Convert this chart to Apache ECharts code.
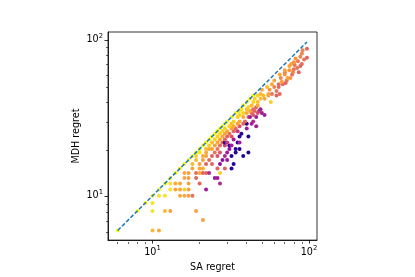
<!DOCTYPE html>
<html>
<head>
<meta charset="utf-8">
<script src="https://cdn.jsdelivr.net/npm/echarts@6/dist/echarts.min.js"></script>
<style>
  html, body { margin: 0; padding: 0; background: #fff; }
  #chart { width: 415px; height: 277px; }
</style>
</head>
<body>
<div id="chart"></div>
<script>
  // [SA regret, MDH regret, colour value 0..1]
  var points = [
    [6, 6, 1], [10, 6, 0.85], [11, 6, 0.8], [21, 7, 0.78],
    [8, 8, 1], [10, 8, 0.95], [12, 8, 0.85], [13, 8, 0.78], [19, 8, 0.78],
    [9, 9, 1], [10, 9, 0.95],
    [10, 10, 1], [11, 10, 0.95], [12, 10, 0.95], [15, 10, 0.8], [16, 10, 0.8], [17, 10, 0.78], [18, 10, 0.65],
    [11, 11, 1], [13, 11, 0.95], [14, 11, 0.8], [15, 11, 0.8], [16, 11, 0.9], [17, 11, 0.78], [22, 11, 0.35],
    [12, 12, 1], [13, 12, 0.95], [14, 12, 0.8], [15, 12, 0.8], [17, 12, 0.78], [20, 12, 0.6], [27, 12, 0.4],
    [13, 13, 1], [16, 13, 0.8], [17, 13, 0.78], [19, 13, 0.6], [25, 13, 0.35], [26, 13, 0.35],
    [14, 14, 1], [16, 14, 0.8], [17, 14, 0.78], [19, 14, 0.62], [20, 14, 0.8], [21, 14, 0.6], [22, 14, 0.6], [23, 14, 0.4], [27, 14, 0.9],
    [15, 15, 1], [18, 15, 0.8], [20, 15, 0.8], [21, 15, 0.8], [26, 15, 0.6], [29, 15, 0.6], [32, 15, 0.05],
    [16, 16, 1], [18, 16, 0.85], [20, 16, 0.78], [22, 16, 0.6], [24, 16, 0.6], [27, 16, 0.3], [33, 16, 0.05],
    [17, 17, 1], [19, 17, 0.85], [21, 17, 0.78], [23, 17, 0.62], [28, 17, 0.3], [30, 17, 0.35],
    [18, 18, 1], [19, 18, 0.9], [21, 18, 0.8], [22, 18, 0.78], [24, 18, 0.6], [26, 18, 0.55], [29, 18, 0.4], [32, 18, 0.05], [38, 18, 0.05],
    [19, 19, 1], [20, 19, 0.95], [22, 19, 0.8], [25, 19, 0.65], [27, 19, 0.55], [30, 19, 0.35], [34, 19, 0.05], [41, 19, 0.05],
    [20, 20, 1], [22, 20, 0.85], [23, 20, 0.8], [24, 20, 0.78], [26, 20, 0.65], [31, 20, 0.3], [34, 20, 0.05], [36, 20, 0.05],
    [21, 21, 1], [23, 21, 0.9], [25, 21, 0.78], [27, 21, 0.62], [29, 21, 0.5], [31, 21, 0.05], [32, 21, 0.35],
    [22, 22, 1], [24, 22, 0.85], [26, 22, 0.8], [28, 22, 0.6], [29, 22, 0.05], [30, 22, 0.45], [35, 22, 0.05], [36, 22, 0.35],
    [23, 23, 1], [25, 23, 0.9], [27, 23, 0.8], [29, 23, 0.6], [33, 23, 0.35],
    [24, 24, 1], [26, 24, 0.9], [28, 24, 0.8], [30, 24, 0.6], [32, 24, 0.55], [36, 24, 0.05], [41, 24, 0.05],
    [25, 25, 1], [27, 25, 0.9], [29, 25, 0.78], [31, 25, 0.62], [37, 25, 0.05],
    [26, 26, 1], [28, 26, 0.9], [30, 26, 0.8], [33, 26, 0.6], [35, 26, 0.45],
    [27, 27, 1], [29, 27, 0.9], [32, 27, 0.78], [34, 27, 0.6], [40, 27, 0.35],
    [28, 28, 1], [31, 28, 0.9], [33, 28, 0.8], [36, 28, 0.55], [46, 28, 0.35],
    [29, 29, 1], [32, 29, 0.85], [35, 29, 0.78], [38, 29, 0.6], [40, 29, 0.05], [43, 29, 0.35],
    [30, 30, 1], [33, 30, 0.9], [36, 30, 0.8], [39, 30, 0.62], [44, 30, 0.4],
    [32, 32, 1], [35, 32, 0.9], [38, 32, 0.8], [41, 32, 0.6], [42, 32, 0.35], [46, 32, 0.35],
    [36, 33, 0.9], [44, 33, 0.55], [52, 33, 0.35],
    [34, 34, 1], [38, 34, 0.9], [40, 34, 0.8], [43, 34, 0.6], [47, 34, 0.55], [50, 34, 0.35],
    [36, 35, 0.95], [42, 35, 0.8], [45, 35, 0.6], [48, 35, 0.45],
    [37, 36, 0.95], [40, 36, 0.85], [44, 36, 0.62], [49, 36, 0.35],
    [41, 37, 0.9], [46, 37, 0.6],
    [38, 38, 1], [43, 38, 0.85], [47, 38, 0.8],
    [40, 40, 1], [44, 40, 0.9], [47, 40, 0.85], [57, 40, 0.9],
    [42, 42, 1], [45, 42, 0.9], [49, 42, 0.85], [52, 42, 0.8],
    [44, 44, 1], [47, 44, 0.9], [51, 44, 0.85], [55, 44, 0.78], [62, 44, 0.6],
    [49, 45, 0.85], [55, 45, 0.8], [58, 45, 0.65], [65, 45, 0.62],
    [50, 48, 0.8], [56, 48, 0.75], [62, 47, 0.65],
    [54, 50, 0.85], [60, 50, 0.7], [64, 50, 0.62],
    [58, 52, 0.8], [64, 52, 0.62], [68, 52, 0.62], [71, 53, 0.6],
    [60, 55, 0.8], [67, 54, 0.78], [72, 55, 0.65], [66, 57, 0.7], [73, 57, 0.78], [76, 57, 0.75],
    [65, 60, 0.8], [70, 60, 0.75], [78, 60, 0.62], [79, 62, 0.7], [70, 62, 0.7],
    [70, 64, 0.78], [75, 64, 0.75], [80, 65, 0.65], [86, 62, 0.6],
    [75, 68, 0.78], [81, 69, 0.65], [84, 66, 0.65], [88, 68, 0.6], [77, 70, 0.78],
    [80, 72, 0.75], [85, 73, 0.65], [90, 70, 0.62],
    [82, 76, 0.75], [88, 78, 0.7], [90, 82, 0.7], [93, 75, 0.65], [91, 86, 0.7],
    [97, 77, 0.6], [97, 88, 0.6]
  ];
  var diagonal = [[6, 6], [97, 97]];
  var majorTicks = [10, 100];
  var minorTicks = [6, 7, 8, 9, 20, 30, 40, 50, 60, 70, 80, 90];
  var plasma = ['#0d0887', '#46039f', '#7201a8', '#9c179e', '#bd3786',
                '#d8576b', '#ed7953', '#fb9f3a', '#fdca26', '#f0f921'];

  var font = 'DejaVu Sans';
  var box = {left: 108, top: 32, width: 209, height: 210};

  function powLabel(v) {
    return '{b|10}{s|' + Math.round(Math.log10(v)) + '}';
  }
  var labelRich = {
    b: {fontSize: 9.6, fontFamily: font, color: '#000'},
    s: {fontSize: 6.8, fontFamily: font, color: '#000', padding: [0, 0, 7, 0]}
  };

  function majorAxis(name, gap, moveName) {
    return {
      type: 'log', logBase: 10, min: 5.2, max: 112.5, gridIndex: 0,
      name: name, nameLocation: 'middle', nameGap: gap, nameMoveOverlap: moveName,
      nameTextStyle: {fontSize: 9.6, fontFamily: font, color: '#000'},
      axisLine: {show: true, lineStyle: {color: '#000', width: 0.8}},
      axisTick: {show: true, length: 3.5, customValues: majorTicks, lineStyle: {color: '#000', width: 0.8}},
      axisLabel: {customValues: majorTicks, margin: 5, formatter: powLabel, rich: labelRich},
      splitLine: {show: false}
    };
  }
  function minorAxis() {
    return {
      type: 'log', logBase: 10, min: 5.2, max: 112.5, gridIndex: 1,
      axisLine: {show: false},
      axisTick: {show: true, length: 2, customValues: minorTicks, lineStyle: {color: '#000', width: 0.6}},
      axisLabel: {show: false},
      splitLine: {show: false}
    };
  }

  var chart = echarts.init(document.getElementById('chart'));
  chart.setOption({
    backgroundColor: '#fff',
    animation: false,
    grid: [
      Object.assign({show: true, borderColor: '#000', borderWidth: 0.8}, box),
      Object.assign({show: false}, box)
    ],
    xAxis: [majorAxis('SA regret', 19, true), minorAxis()],
    yAxis: [majorAxis('MDH regret', 27, false), minorAxis()],
    visualMap: {
      show: false, type: 'continuous', min: 0, max: 1, dimension: 2,
      seriesIndex: 0, inRange: {color: plasma}
    },
    series: [
      {
        type: 'scatter', xAxisIndex: 0, yAxisIndex: 0,
        data: points, symbolSize: 4,
        itemStyle: {opacity: 1}
      },
      {
        type: 'line', xAxisIndex: 0, yAxisIndex: 0,
        data: diagonal, showSymbol: false, z: 3,
        lineStyle: {color: '#1f77b4', width: 1.5, type: [4, 2]}
      }
    ]
  });
</script>
</body>
</html>
